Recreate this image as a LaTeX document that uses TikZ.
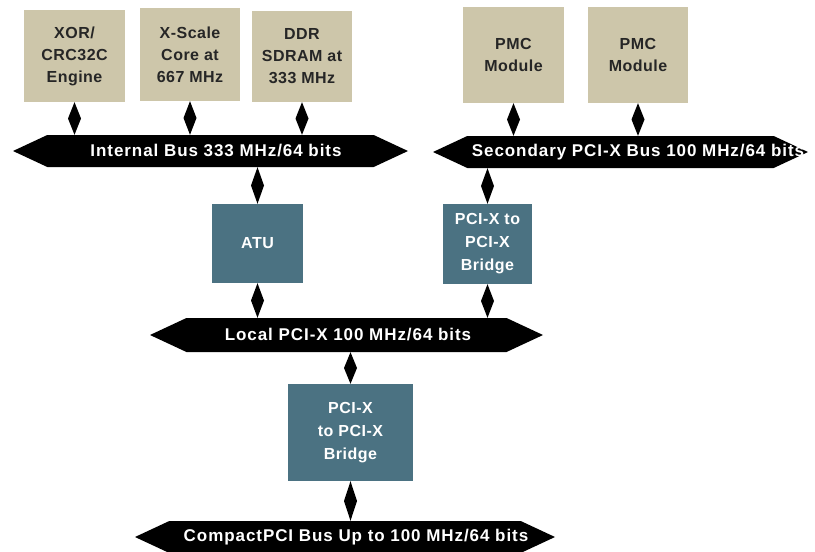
\documentclass[tikz,border=0pt]{standalone}
\usepackage{fontspec}
\setmainfont{Liberation Sans}
\newfontfamily\boxfont[LetterSpace=3]{Liberation Sans}
\newfontfamily\busfont[LetterSpace=5.5]{Liberation Sans}
\usetikzlibrary{calc,shapes.symbols}
\definecolor{boxtan}{HTML}{CDC6AA}
\definecolor{boxteal}{HTML}{4B7282}
\begin{document}
\begin{tikzpicture}[x=1pt,y=-1pt,
  tanbox/.style={fill=boxtan, draw=none, align=center, text=black!85, inner sep=0,
    font=\boxfont\bfseries\fontsize{16}{22}\selectfont},
  tealbox/.style={fill=boxteal, draw=none, align=center, text=white, inner sep=0,
    font=\boxfont\bfseries\fontsize{16}{23}\selectfont},
  bus/.style={shape=signal, signal to=west and east, signal pointer angle=50,
    fill=black, draw=none, inner sep=0, minimum height=32},
  buslabel/.style={text=white, inner sep=0, font=\busfont\bfseries\fontsize{17}{20}\selectfont},
  dia/.style={fill=black, to path={-- ($(\tikztostart)!.5!(\tikztotarget)+(6.5,0)$) -- (\tikztotarget) -- ($(\tikztostart)!.5!(\tikztotarget)+(-6.5,0)$) -- cycle}}
]
\useasboundingbox[fill=white] (0,0) rectangle (815,552);

% top boxes
\node[tanbox, minimum width=101, minimum height=92] (xor) at (74.5,56) {XOR/\\CRC32C\\Engine};
\node[tanbox, minimum width=100, minimum height=93] (xscale) at (190,54.5) {X-Scale\\Core at\\667 MHz};
\node[tanbox, minimum width=100, minimum height=91] (ddr) at (302,56.5) {DDR\\SDRAM at\\333 MHz};
\node[tanbox, minimum width=101, minimum height=96] (pmca) at (513.5,55) {PMC\\Module};
\node[tanbox, minimum width=100, minimum height=96] (pmcb) at (638,55) {PMC\\Module};

% buses
\node[bus, minimum width=395] (ibus) at (210.5,151) {};
\node[buslabel] (ibuslabel) at (216,151) {Internal Bus 333 MHz/64 bits};
\node[bus, minimum width=375] (sbus) at (620.5,152) {};
\node[buslabel] (sbuslabel) at (638,152) {Secondary PCI-X Bus 100 MHz/64 bits};
\node[bus, minimum width=393, minimum height=34] (lbus) at (346.5,335) {};
\node[buslabel] (lbuslabel) at (348,335) {Local PCI-X 100 MHz/64 bits};
\node[bus, minimum width=420] (cbus) at (345,537) {};
\node[buslabel] (cbuslabel) at (356,537) {CompactPCI Bus Up to 100 MHz/64 bits};

% middle boxes
\node[tealbox, minimum width=91, minimum height=79] (atu) at (257.5,243.5) {ATU};
\node[tealbox, minimum width=89, minimum height=80] (brga) at (487.5,244) {PCI-X to\\PCI-X\\Bridge};
\node[tealbox, minimum width=125, minimum height=97] (brgb) at (350.5,432.5) {PCI-X\\to PCI-X\\Bridge};

% diamond connectors
\path[dia] (xor.south) to (xor.south |- ibus.north);
\path[dia] (xscale.south) to (xscale.south |- ibus.north);
\path[dia] (ddr.south) to (ddr.south |- ibus.north);
\path[dia] (pmca.south) to (pmca.south |- sbus.north);
\path[dia] (pmcb.south) to (pmcb.south |- sbus.north);
\path[dia] (atu.north |- ibus.south) to (atu.north);
\path[dia] (brga.north |- sbus.south) to (brga.north);
\path[dia] (atu.south) to (atu.south |- lbus.north);
\path[dia] (brga.south) to (brga.south |- lbus.north);
\path[dia] (brgb.north |- lbus.south) to (brgb.north);
\path[dia] (brgb.south) to (brgb.south |- cbus.north);
\end{tikzpicture}
\end{document}
